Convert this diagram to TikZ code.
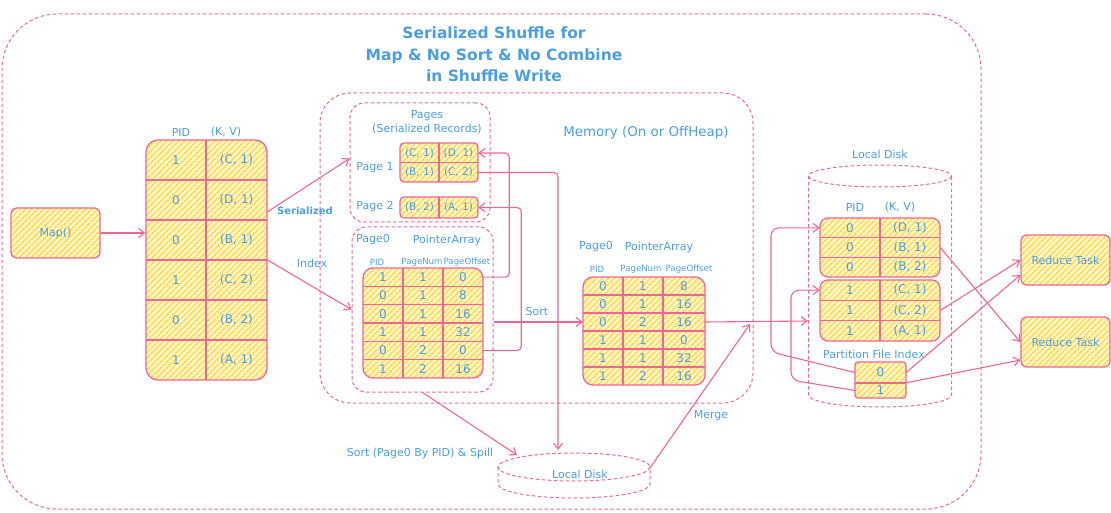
\documentclass[tikz,border=0pt]{standalone}
\usepackage{fontspec}
\setmainfont{DejaVu Sans}
\usetikzlibrary{patterns.meta,arrows.meta,calc}
\definecolor{pk}{RGB}{240,101,149}
\definecolor{bl}{RGB}{74,158,226}
\definecolor{yl}{RGB}{255,212,59}
\definecolor{ylbg}{RGB}{255,246,200}
\tikzset{
  txt/.style={text=bl, inner sep=0pt, font=\fontsize{11}{13}\selectfont},
  big/.style={txt, font=\fontsize{13.4}{16}\selectfont},
  small/.style={txt, font=\fontsize{8.6}{10}\selectfont},
  boldlbl/.style={txt, font=\bfseries\fontsize{10}{12}\selectfont},
  ttl/.style={text=bl, align=center, inner sep=0pt, font=\bfseries\fontsize{15.5}{21.5}\selectfont},
  hatch/.style={preaction={fill=ylbg}, pattern={Lines[angle=45,distance=4pt,line width=1.5pt]}, pattern color=yl},
  ybox/.style={draw=pk, line width=1.3pt, hatch, rounded corners=#1, inner sep=0pt},
  ybox/.default=6pt,
  dbox/.style={draw=pk, line width=1pt, dash pattern=on 3.5pt off 2.5pt, rounded corners=#1, inner sep=0pt},
  dbox/.default=12pt,
  dsh/.style={draw=pk, line width=1pt, dash pattern=on 3.5pt off 2.5pt},
  cell/.style={txt, inner sep=0pt, font=\fontsize{12}{13}\selectfont},
  pcell/.style={txt, inner sep=0pt, font=\fontsize{10.5}{12}\selectfont},
  gridline/.style={draw=pk, line width=1.1pt},
  conn/.style={draw=pk, line width=1.1pt, -{Straight Barb[length=6pt,width=9pt]}},
}
\begin{document}
\begin{tikzpicture}[x=1pt,y=-1pt]
\useasboundingbox (0,0) rectangle (1111,513);

% outer frame and title
\node[dbox=55pt, minimum width=979pt, minimum height=495pt] (outer) at (491.5,261.5) {};
\node[ttl] (title) at (494,54.5) {Serialized Shuffle for\\Map \& No Sort \& No Combine\\in Shuffle Write};

% Map
\node[ybox=6pt, minimum width=89pt, minimum height=50pt, txt] (map) at (55.5,233) {Map()};

% table 1
\node[txt] (pid1) at (181,132) {PID};
\node[txt] (kv1) at (226,132) {(K, V)};
\node[ybox=12pt, minimum width=121pt, minimum height=240pt] (t1) at (206.5,260) {};
\draw[gridline] (206,140) -- (206,380);
\foreach \y in {180,220,260,300,340} \draw[gridline] (146,\y) -- (267,\y);
\foreach \p/\kv [count=\i] in {1/{(C, 1)},0/{(D, 1)},0/{(B, 1)},1/{(C, 2)},0/{(B, 2)},1/{(A, 1)}} {
  \node[cell, minimum width=60pt, minimum height=40pt] (t1-\i-1) at (176,120+40*\i) {\p};
  \node[cell, minimum width=61pt, minimum height=40pt] (t1-\i-2) at (236.5,120+40*\i) {\kv};
}

% memory region
\node[dbox=30pt, minimum width=433pt, minimum height=310pt] (mem) at (536.5,248) {};
\node[big] (memlbl) at (646,133) {Memory (On or OffHeap)};

% pages
\node[dbox=14pt, minimum width=140pt, minimum height=119pt] (pages) at (420,162.5) {};
\node[txt, align=center, font=\fontsize{11}{14}\selectfont] (pageslbl) at (427,122) {Pages\\(Serialized Records)};
\node[txt] (p1lbl) at (375,168) {Page 1};
\node[txt] (p2lbl) at (375,207) {Page 2};
\node[ybox=4pt, minimum width=78pt, minimum height=39pt] (p1) at (439,162.5) {};
\draw[gridline] (439,143) -- (439,182);
\draw[gridline] (400,162.5) -- (478,162.5);
\node[pcell, minimum width=39pt, minimum height=19.5pt] (p1a) at (419.5,153) {(C, 1)};
\node[pcell, minimum width=39pt, minimum height=19.5pt] (p1b) at (458.5,153) {(D, 1)};
\node[pcell, minimum width=39pt, minimum height=19.5pt] (p1c) at (419.5,172.5) {(B, 1)};
\node[pcell, minimum width=39pt, minimum height=19.5pt] (p1d) at (458.5,172.5) {(C, 2)};
\node[ybox=4pt, minimum width=78pt, minimum height=21pt] (p2) at (439,207.5) {};
\draw[gridline] (439,197) -- (439,218);
\node[pcell, minimum width=39pt, minimum height=21pt] (p2a) at (419.5,207.5) {(B, 2)};
\node[pcell, minimum width=39pt, minimum height=21pt] (p2b) at (458.5,207.5) {(A, 1)};

% pointer array 1
\node[dbox=14pt, minimum width=141pt, minimum height=165pt] (pabox) at (422.5,309.5) {};
\node[txt] (pg0a) at (373,240) {Page0};
\node[txt] (pa1lbl) at (447,240) {PointerArray};
\node[small] (h1a) at (377,262) {PID};
\node[small] (h1b) at (422,262) {PageNum};
\node[small] (h1c) at (467,262) {PageOffset};
\node[ybox=10pt, minimum width=120pt, minimum height=110pt] (g1) at (423,323) {};
\draw[gridline] (403,268) -- (403,378);
\draw[gridline] (443,268) -- (443,378);
\foreach \y in {286.33,304.67,323,341.33,359.67} \draw[gridline] (363,\y) -- (483,\y);
\foreach \a/\b/\c [count=\i] in {1/1/0,0/1/8,0/1/16,1/1/32,0/2/0,1/2/16} {
  \node[cell, minimum width=40pt, minimum height=18.33pt] (g1-\i-1) at (383,258.833+18.333*\i) {\a};
  \node[cell, minimum width=40pt, minimum height=18.33pt] (g1-\i-2) at (423,258.833+18.333*\i) {\b};
  \node[cell, minimum width=40pt, minimum height=18.33pt] (g1-\i-3) at (463,258.833+18.333*\i) {\c};
}

% pointer array 2
\node[txt] (pg0b) at (596,247) {Page0};
\node[txt] (pa2lbl) at (659,247) {PointerArray};
\node[small] (h2a) at (597,269) {PID};
\node[small] (h2b) at (641,269) {PageNum};
\node[small] (h2c) at (689,269) {PageOffset};
\node[ybox=10pt, minimum width=122pt, minimum height=108pt] (g2) at (644,331) {};
\draw[gridline] (623,277) -- (623,385);
\draw[gridline] (663,277) -- (663,385);
\foreach \y in {295,313,331,349,367} \draw[gridline] (583,\y) -- (705,\y);
\foreach \a/\b/\c [count=\i] in {0/1/8,0/1/16,0/2/16,1/1/0,1/1/32,1/2/16} {
  \node[cell, minimum width=40pt, minimum height=18pt] (g2-\i-1) at (603,268+18*\i) {\a};
  \node[cell, minimum width=40pt, minimum height=18pt] (g2-\i-2) at (643,268+18*\i) {\b};
  \node[cell, minimum width=42pt, minimum height=18pt] (g2-\i-3) at (684,268+18*\i) {\c};
}

% spill local disk
\draw[dsh] (574,467) ellipse [x radius=76, y radius=14];
\draw[dsh] (498,467) -- (498,484) arc[start angle=180, end angle=0, x radius=76, y radius=14] -- (650,467);
\node[txt] (disk1lbl) at (580,474) {Local Disk};
\coordinate (spillin) at (517,455);
\coordinate (spilltop) at (558,450);
\coordinate (spillout) at (650,468);
\coordinate (mergeend) at (750,324);

% right local disk
\draw[dsh] (880,176) ellipse [x radius=71.5, y radius=11];
\draw[dsh] (808.5,176) -- (808.5,395) arc[start angle=180, end angle=0, x radius=71.5, y radius=12] -- (951.5,176);
\node[txt] (disk2lbl) at (880,154) {Local Disk};
\coordinate (diskin) at (808,321);
\node[txt] (pid2) at (855,207) {PID};
\node[txt] (kv2) at (900,207) {(K, V)};
\node[ybox=8pt, minimum width=120pt, minimum height=59pt] (rg0) at (880,247.5) {};
\draw[gridline] (880,218) -- (880,277);
\draw[gridline] (820,237.67) -- (940,237.67);
\draw[gridline] (820,257.33) -- (940,257.33);
\node[ybox=8pt, minimum width=120pt, minimum height=61pt] (rg1) at (880,310.5) {};
\draw[gridline] (880,280) -- (880,341);
\draw[gridline] (820,300.33) -- (940,300.33);
\draw[gridline] (820,320.67) -- (940,320.67);
\foreach \p/\kv [count=\i] in {0/{(D, 1)},0/{(B, 1)},0/{(B, 2)}} {
  \node[cell, minimum width=60pt, minimum height=19.67pt] (rg0-\i-1) at (850,208.17+19.667*\i) {\p};
  \node[cell, minimum width=60pt, minimum height=19.67pt] (rg0-\i-2) at (910,208.17+19.667*\i) {\kv};
}
\foreach \p/\kv [count=\i] in {1/{(C, 1)},1/{(C, 2)},1/{(A, 1)}} {
  \node[cell, minimum width=60pt, minimum height=20.33pt] (rg1-\i-1) at (850,269.83+20.333*\i) {\p};
  \node[cell, minimum width=60pt, minimum height=20.33pt] (rg1-\i-2) at (910,269.83+20.333*\i) {\kv};
}
\node[txt] (pfilbl) at (874,354) {Partition File Index};
\node[ybox=3pt, minimum width=51pt, minimum height=36pt] (ix) at (880.5,380) {};
\draw[gridline] (855,383) -- (906,383);
\node[cell, minimum width=51pt, minimum height=21pt] (ix0) at (880.5,372.5) {0};
\node[cell, minimum width=51pt, minimum height=15pt] (ix1) at (880.5,390.5) {1};

% reduce tasks
\node[ybox=6pt, minimum width=89pt, minimum height=50pt, txt] (rt1) at (1065.5,260) {Reduce Task};
\node[ybox=6pt, minimum width=89pt, minimum height=50pt, txt] (rt2) at (1065.5,342) {Reduce Task};

% connectors
\draw[conn] (map.east) -- (map.east -| t1.west);
\draw[conn] ([yshift=-12pt]t1-2-2.east) -- ([yshift=4pt]pages.west);
\node[boldlbl] (serlbl) at (305,211) {Serialized};
\draw[conn] (t1-4-2.north east) -- (pabox.west);
\node[txt] (idxlbl) at (312,263) {Index};
\draw[conn, rounded corners=4pt] (g1-1-3.east) -- ++(26,0) |- (p1b.east);
\draw[conn, rounded corners=4pt] (g1-5-3.east) -- ++(38,0) |- (p2b.east);
\draw[conn, rounded corners=4pt] (p1d.east) -| (spilltop);
\draw[conn] (pabox.east |- g2-3-1.west) -- (g2-3-1.west);
\node[txt] (sortlbl) at (537,311) {Sort};
\draw[conn] (pabox.south) -- (spillin);
\node[txt] (spilllbl) at (420,453) {Sort (Page0 By PID) \& Spill};
\draw[conn] (spillout) -- (mergeend);
\node[txt] (mergelbl) at (711,416) {Merge};
\draw[conn] (g2-3-3.east) -- (diskin);
\draw[conn, rounded corners=8pt] (ix0.west) -- (771,352) |- (rg0-1-1.west);
\draw[conn, rounded corners=8pt] (ix1.west) -- (791,380) |- (rg1-1-1.west);
\draw[conn] (rg0-2-2.east) -- (rt2.west);
\draw[conn] (rg1-2-2.east) -- (rt1.west);
\draw[conn] (ix0.east) -- ([yshift=-15pt]rt1.west);
\draw[conn] (ix1.north east) -- ([yshift=-18pt]rt2.west);
\end{tikzpicture}
\end{document}
